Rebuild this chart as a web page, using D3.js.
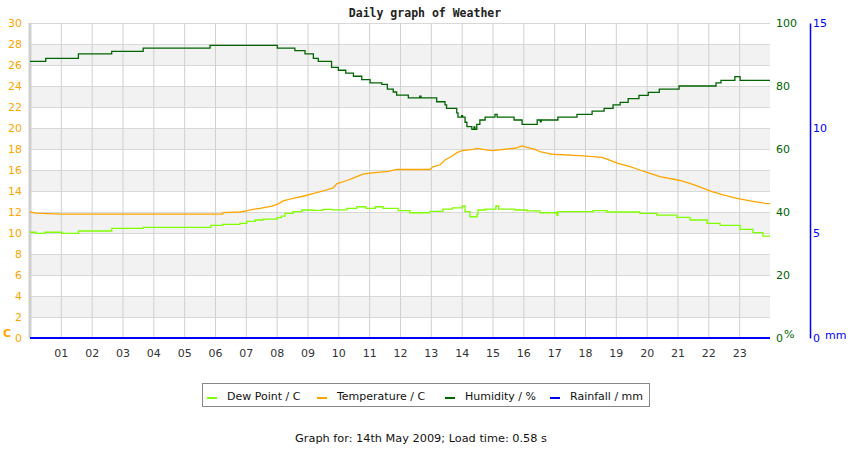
<!DOCTYPE html>
<html>
<head>
<meta charset="utf-8">
<script src="https://cdn.jsdelivr.net/npm/d3@7"></script>
<style>
  body { margin: 0; background: #fff; }
  svg text { font-family: "DejaVu Sans", sans-serif; }
  svg text.title { font-family: "DejaVu Sans Mono", monospace; }
</style>
</head>
<body>
<div id="chart"></div>
<script>
// hours on the x axis
const hourTicks = [1,2,3,4,5,6,7,8,9,10,11,12,13,14,15,16,17,18,19,20,21,22,23]
const hourLabels = ["01","02","03","04","05","06","07","08","09","10","11","12","13","14","15","16","17","18","19","20","21","22","23"]
const tempTicks = [0,2,4,6,8,10,12,14,16,18,20,22,24,26,28,30]
const humTicks = [0,20,40,60,80,100]
const rainTicks = [0,5,10,15]

// [hour, value]
const dewPoint = [[0,10.07],[0.19,9.97],[0.49,10.07],[1.03,9.97],[1.57,10.19],[2.65,10.44],[3.67,10.54],[5.86,10.73],[6.25,10.83],[6.81,10.92],[7.03,11.11],[7.3,11.24],[7.56,11.33],[8.01,11.46],[8.15,11.6],[8.27,11.87],[8.53,12.03],[8.82,12.19],[9.18,12.15],[9.5,12.25],[9.8,12.2],[10.28,12.35],[10.6,12.5],[10.9,12.35],[11.2,12.5],[11.45,12.35],[11.94,12.13],[12.32,11.93],[12.97,12.06],[13.39,12.28],[13.7,12.4],[14.01,12.57],[14.11,12.03],[14.27,11.55],[14.5,11.8],[14.53,12.19],[14.76,12.28],[15.11,12.57],[15.2,12.28],[15.73,12.19],[16.12,12.1],[16.54,11.93],[17.09,11.68],[17.12,12.03],[18.26,12.13],[18.71,12.0],[19.78,11.87],[20.33,11.71],[20.98,11.49],[21.41,11.24],[21.96,10.92],[22.38,10.73],[23.03,10.35],[23.45,10.03],[23.77,9.71],[24,9.71]]

const temperature = [[0,12.0],[0.19,11.9],[1.03,11.8],[6.25,11.8],[6.26,11.95],[6.81,12.0],[7.03,12.1],[7.23,12.25],[7.46,12.35],[7.85,12.55],[8.04,12.75],[8.21,13.05],[8.53,13.3],[8.85,13.5],[9.18,13.75],[9.5,14.0],[9.83,14.3],[9.96,14.7],[10.28,15.0],[10.54,15.3],[10.8,15.6],[11.03,15.7],[11.61,15.87],[11.9,16.05],[12.97,16.05],[13.07,16.3],[13.3,16.5],[13.46,16.95],[13.69,17.33],[13.85,17.65],[14.01,17.84],[14.37,17.97],[14.5,18.06],[14.69,17.97],[14.98,17.84],[15.15,17.9],[15.73,18.07],[15.96,18.29],[16.12,18.16],[16.38,17.97],[16.54,17.74],[16.8,17.59],[16.93,17.5],[17.84,17.37],[18.55,17.2],[18.8,16.95],[19.07,16.63],[19.46,16.32],[19.78,16.0],[20.11,15.68],[20.43,15.37],[21.08,15.0],[21.5,14.63],[21.8,14.3],[22.12,13.94],[22.48,13.62],[22.93,13.3],[23.35,13.05],[23.84,12.83],[24,12.8]]

const humidity = [[0,87.8],[0.51,88.8],[1.57,90.2],[2.65,91.0],[3.67,92.0],[5.84,92.9],[8.02,92.0],[8.59,91.2],[8.92,90.2],[9.19,88.8],[9.35,87.8],[9.78,85.9],[10.0,85.0],[10.24,84.1],[10.49,83.1],[10.76,82.0],[11.03,81.0],[11.41,80.5],[11.59,79.0],[11.78,78.1],[11.89,77.1],[12.27,76.2],[12.64,76.8],[12.68,76.2],[13.19,75.0],[13.46,74.0],[13.51,72.9],[13.84,71.5],[13.88,70.1],[14.0,70.6],[14.03,70.1],[14.11,68.5],[14.17,67.1],[14.33,66.2],[14.4,67.0],[14.43,66.2],[14.49,67.8],[14.59,69.2],[14.76,70.1],[15.08,71.0],[15.15,70.1],[15.7,69.2],[15.96,67.8],[16.45,69.2],[16.55,68.6],[16.58,69.2],[17.12,70.1],[17.74,71.0],[18.23,72.0],[18.62,72.9],[18.91,74.0],[19.14,74.8],[19.4,76.0],[19.75,77.0],[20.05,78.0],[20.41,79.0],[21.05,80.0],[22.25,81.0],[22.41,81.8],[22.86,83.0],[23.03,81.8],[24,81.8]]

const rainfall = [[0,0],[24,0]]

const legendNames = ["Dew Point / C", "Temperature / C", "Humidity / %", "Rainfall / mm"]
const legendColors = ["#80ff00", "#ffa500", "#006400", "#0000ff"]

const W = 850, H = 450
const PLOT = { LEFT: 30, RIGHT: 770, TOP: 23, BOTTOM: 338 }

const svg = d3.select("#chart").append("svg")
  .attr("width", W)
  .attr("height", H)

// Scales
const x = d3.scaleLinear().domain([0, 24]).range([PLOT.LEFT, PLOT.RIGHT])
const yT = d3.scaleLinear().domain([0, 30]).range([PLOT.BOTTOM, PLOT.TOP])
const yH = d3.scaleLinear().domain([0, 100]).range([PLOT.BOTTOM, PLOT.TOP])
const yR = d3.scaleLinear().domain([0, 15]).range([PLOT.BOTTOM, PLOT.TOP])

// alternating bands
const bands = tempTicks.slice(0, -1).map((t, i) => ({ lo: t, hi: tempTicks[i + 1], i }))
svg.append("g").selectAll("rect")
  .data(bands.filter(b => b.i % 2 === 1))
  .enter().append("rect")
    .attr("x", PLOT.LEFT)
    .attr("width", PLOT.RIGHT - PLOT.LEFT)
    .attr("y", d => yT(d.hi))
    .attr("height", d => yT(d.lo) - yT(d.hi))
    .attr("fill", "#f2f2f2")

// horizontal grid
svg.append("g")
  .attr("transform", `translate(${PLOT.LEFT},0)`)
  .call(d3.axisLeft(yT).tickValues(tempTicks).tickSize(-(PLOT.RIGHT - PLOT.LEFT)).tickFormat(""))
  .call(g => g.select(".domain").remove())
  .call(g => g.selectAll("line").attr("stroke", "#d8d8d8"))

// vertical grid
svg.append("g")
  .attr("transform", `translate(0,${PLOT.BOTTOM})`)
  .call(d3.axisBottom(x).tickValues(hourTicks).tickSize(-(PLOT.BOTTOM - PLOT.TOP)).tickFormat(""))
  .call(g => g.select(".domain").remove())
  .call(g => g.selectAll("line").attr("stroke", "#d0d0d0"))

// left border
svg.append("line")
  .attr("x1", PLOT.LEFT).attr("x2", PLOT.LEFT)
  .attr("y1", PLOT.TOP).attr("y2", PLOT.BOTTOM)
  .attr("stroke", "#cfcfcf").attr("stroke-width", 3)

// Hour labels
svg.append("g")
  .attr("transform", `translate(0,${PLOT.BOTTOM + 8})`)
  .call(d3.axisBottom(x).tickValues(hourTicks).tickSize(0).tickFormat((d, i) => hourLabels[i]))
  .call(g => g.select(".domain").remove())
  .call(g => g.selectAll("text").attr("fill", "#333").attr("font-size", "11px"))

// Left axis (C)
svg.append("g")
  .attr("transform", `translate(${PLOT.LEFT - 6},0)`)
  .call(d3.axisLeft(yT).tickValues(tempTicks).tickSize(0).tickPadding(2))
  .call(g => g.select(".domain").remove())
  .call(g => g.selectAll("text").attr("fill", "#ffa500").attr("font-size", "11px"))
svg.append("text")
  .attr("x", 3).attr("y", 337)
  .attr("fill", "#ffa500").attr("font-size", "11px").attr("font-weight", "bold")
  .text("C")

// Humidity axis
svg.append("g")
  .attr("transform", `translate(${PLOT.RIGHT + 4},0)`)
  .call(d3.axisRight(yH).tickValues(humTicks).tickSize(0).tickPadding(2))
  .call(g => g.select(".domain").remove())
  .call(g => g.selectAll("text").attr("fill", "#006400").attr("font-size", "11px"))
svg.append("text")
  .attr("x", 784).attr("y", 338)
  .attr("fill", "#006400").attr("font-size", "11px")
  .text("%")

// Rainfall axis
svg.append("g")
  .attr("transform", `translate(810,0)`)
  .call(d3.axisRight(yR).tickValues(rainTicks).tickSize(0).tickPadding(3))
  .call(g => g.select(".domain").attr("stroke", "#0000ff").attr("stroke-width", 1.5))
  .call(g => g.selectAll("text").attr("fill", "#0000ff").attr("font-size", "11px"))
svg.append("text")
  .attr("x", 825).attr("y", 339)
  .attr("fill", "#0000ff").attr("font-size", "11px")
  .text("mm")

// Lines
const lineT = d3.line().x(d => x(d[0])).y(d => yT(d[1]))
const stepT = d3.line().x(d => x(d[0])).y(d => yT(d[1])).curve(d3.curveStepAfter)
const stepH = d3.line().x(d => x(d[0])).y(d => yH(d[1])).curve(d3.curveStepAfter)
const stepR = d3.line().x(d => x(d[0])).y(d => yR(d[1])).curve(d3.curveStepAfter)

svg.append("path").datum(dewPoint)
  .attr("d", stepT).attr("fill", "none").attr("stroke", legendColors[0]).attr("stroke-width", 1.3)
svg.append("path").datum(temperature)
  .attr("d", lineT).attr("fill", "none").attr("stroke", legendColors[1]).attr("stroke-width", 1.3)
svg.append("path").datum(humidity)
  .attr("d", stepH).attr("fill", "none").attr("stroke", legendColors[2]).attr("stroke-width", 1.3)
svg.append("path").datum(rainfall)
  .attr("d", stepR).attr("fill", "none").attr("stroke", legendColors[3]).attr("stroke-width", 2)

// Title
svg.append("text")
  .attr("class", "title")
  .attr("x", 425).attr("y", 17)
  .attr("text-anchor", "middle")
  .attr("font-weight", "bold")
  .attr("font-size", "11.5px")
  .attr("fill", "#222")
  .text("Daily graph of Weather")

// Legend
svg.append("rect")
  .attr("x", 202.5).attr("y", 383.5)
  .attr("width", 447).attr("height", 23)
  .attr("fill", "#fff").attr("stroke", "#888")
const legendX = [207, 317, 445, 550]
legendNames.forEach((name, i) => {
  const row = svg.append("g").attr("transform", `translate(${legendX[i]}, 398)`)
  row.append("line")
    .attr("x1", 0).attr("x2", 10)
    .attr("stroke", legendColors[i]).attr("stroke-width", 2)
  row.append("text")
    .attr("x", 20).attr("y", 2)
    .attr("font-size", "11px")
    .attr("fill", "#111")
    .text(name)
})

// Footer
svg.append("text")
  .attr("x", 421).attr("y", 442)
  .attr("text-anchor", "middle")
  .attr("font-size", "11.3px")
  .attr("fill", "#111")
  .text("Graph for: 14th May 2009; Load time: 0.58 s")
</script>
</body>
</html>
